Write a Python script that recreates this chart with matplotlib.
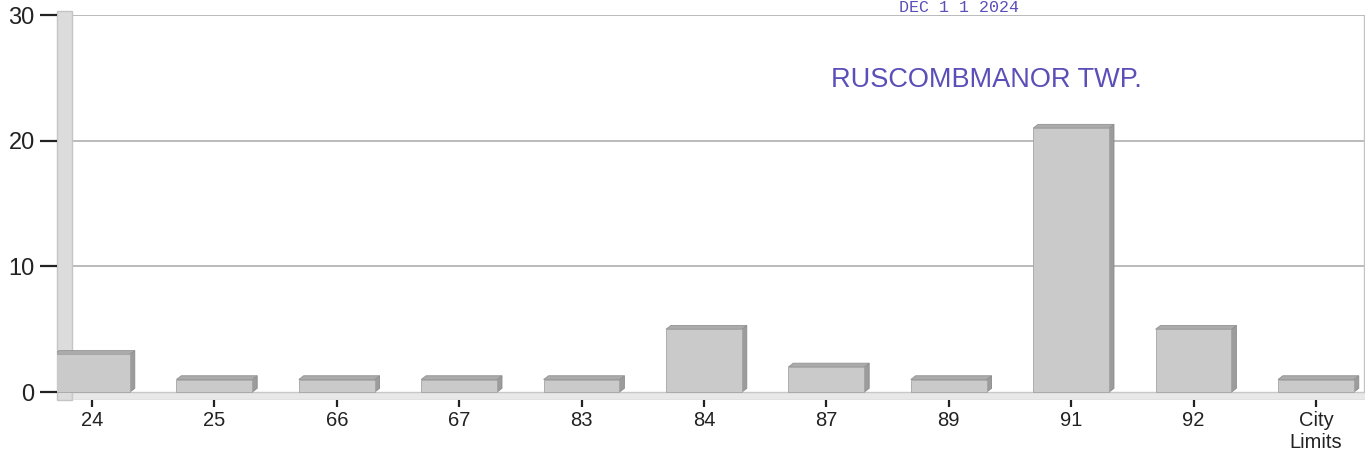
import matplotlib
matplotlib.use("Agg")
import matplotlib.pyplot as plt
from matplotlib.patches import Polygon, Rectangle

# Veriler
categories = ["24", "25", "66", "67", "83", "84", "87", "89", "91", "92", "City\nLimits"]
counts = [3, 1, 1, 1, 1, 5, 2, 1, 21, 5, 1]
y_ticks = [0, 10, 20, 30]

plt.rcParams['font.family'] = ['Liberation Sans', 'DejaVu Sans']

fig = plt.figure(figsize=(13.69, 4.62), dpi=100)
ax = fig.add_axes([0.0416, 0.135, 0.9554, 0.8325])

x0, x1 = -0.286, 10.4
ax.set_xlim(x0, x1)
ax.set_ylim(-0.6, 30)

# sol duvar ve zemin
wall_w = 0.12
ax.add_patch(Rectangle((x0, -0.6), wall_w, 30.9, facecolor='#dcdcdc', edgecolor='#c4c4c4', lw=1,
                       zorder=1, clip_on=False))
ax.add_patch(Rectangle((x0 + wall_w, -0.6), x1 - x0, 0.6, facecolor='#e8e8e8', edgecolor='#c8c8c8', lw=1, zorder=1))

# ızgara çizgileri
ax.hlines([10, 20, 30], x0 + wall_w, x1, colors='#a8a8a8', lw=1.1, zorder=0.5)
ax.vlines(x1 - 0.005, 0, 30, colors='#c4c4c4', lw=1, zorder=0.5)

# 3B görünümlü çubuklar
w = 0.62
dx, dy = 0.04, 0.3
for i, v in enumerate(counts):
    l, r = i - w / 2, i + w / 2
    ax.add_patch(Polygon([(r, 0), (r + dx, dy), (r + dx, v + dy), (r, v)],
                         closed=True, facecolor='#9c9c9c', edgecolor='#8a8a8a', lw=0.6, zorder=3))
    ax.add_patch(Polygon([(l, v), (l + dx, v + dy), (r + dx, v + dy), (r, v)],
                         closed=True, facecolor='#ababab', edgecolor='#929292', lw=0.6, zorder=3))
    ax.bar(i, v, width=w, color='#cacaca', edgecolor='#a4a4a4', lw=0.6, zorder=3)

for s in ax.spines.values():
    s.set_visible(False)

ax.set_yticks(y_ticks)
ax.set_yticklabels([str(t) for t in y_ticks], fontsize=17)
ax.tick_params(axis='y', length=12, width=1.6, pad=4, color='#222222', labelcolor='#222222')

ax.set_xticks(range(len(categories)))
ax.set_xticklabels(categories, fontsize=14.5, linespacing=1.25)
ax.tick_params(axis='x', length=5, width=1.6, pad=3, color='#222222', labelcolor='#222222')

# damga yazıları
stamp = '#5a4fb8'
fig.text(0.607, 0.826, "RUSCOMBMANOR TWP.", color=stamp, fontsize=19.5,
         ha='left', va='center')
fig.text(0.657, 0.999, "DEC 1 1 2024", color=stamp, fontsize=12,
         family=['Liberation Mono', 'DejaVu Sans Mono'], ha='left', va='top')

fig.savefig("out.png", dpi=100)
